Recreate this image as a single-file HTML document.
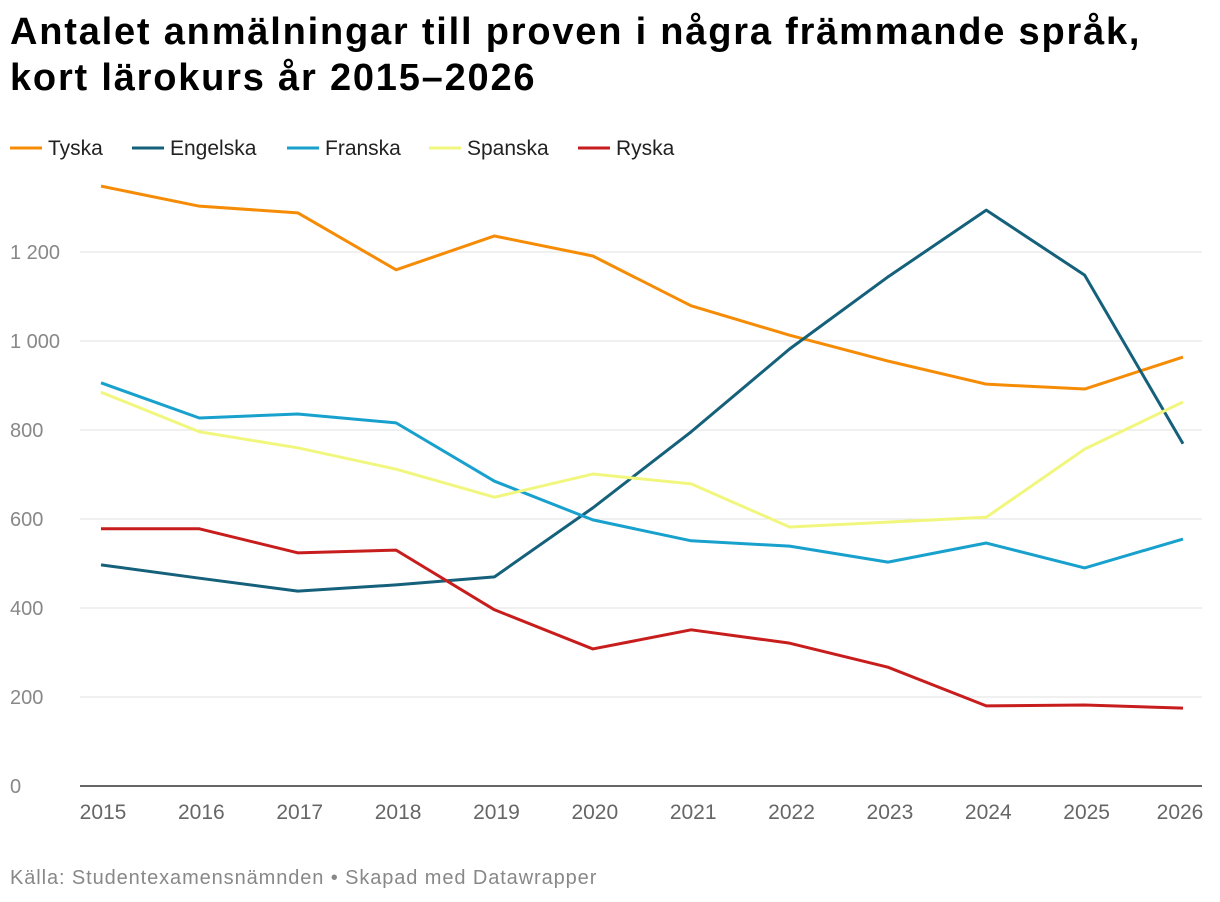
<!DOCTYPE html>
<html><head><meta charset="utf-8">
<style>
body{margin:0;background:#fff;width:1220px;height:902px;overflow:hidden;font-family:"Liberation Sans",sans-serif;}
h1{position:absolute;left:10px;top:9px;margin:0;font-size:38px;line-height:46px;font-weight:bold;color:#000;letter-spacing:1.8px;white-space:nowrap}
.foot{position:absolute;left:10px;top:867px;font-size:20px;letter-spacing:0.9px;color:#888}
svg{position:absolute;left:0;top:0}
</style></head><body>
<h1>Antalet anmälningar till proven i några främmande språk,<br>kort lärokurs år 2015–2026</h1>
<svg id="c" width="1220" height="902"></svg>
<div class="foot">Källa: Studentexamensnämnden • Skapad med Datawrapper</div>
<script>
const years=[2015,2016,2017,2018,2019,2020,2021,2022,2023,2024,2025,2026];
const yTicks=[0,200,400,600,800,1000,1200];
const yTickLabels=["0","200","400","600","800","1 000","1 200"];
const seriesNames=["Tyska","Engelska","Franska","Spanska","Ryska"];
const tyska=[1348,1303,1288,1160,1236,1191,1079,1013,955,903,892,964];
const engelska=[497,467,438,452,470,625,796,982,1144,1294,1148,769];
const franska=[906,827,836,816,685,598,551,539,503,546,490,555];
const spanska=[885,796,760,712,649,701,679,582,593,604,757,863];
const ryska=[578,578,524,530,396,308,351,321,267,180,182,175];
const colors=["#f68c06","#15607a","#18a1cd","#f1f77e","#c71e1d"];
const svg=document.getElementById('c');const NS="http://www.w3.org/2000/svg";
const x=i=>101+i*(1082/11);const y=v=>786-v*0.445;
function mk(t,a,p){const e=document.createElementNS(NS,t);for(const k in a)e.setAttribute(k,a[k]);(p||svg).appendChild(e);return e;}
yTicks.forEach((v,i)=>{
 if(v>0){const g=mk('line',{x1:80,x2:1202,y1:y(v),y2:y(v),stroke:'#e2e2e2','stroke-width':1});
 
 }
 const t=mk('text',{x:10,y:y(v)+7,'font-size':20,fill:'#888'});t.textContent=yTickLabels[i];
 
 
});
const base=mk('line',{x1:80,x2:1202,y1:786,y2:786,stroke:'#333','stroke-width':1.5});


years.forEach((yr,i)=>{const t=mk('text',{x:Math.min(x(i)+2,1180),y:819,'font-size':21,fill:'#666','text-anchor':'middle'});t.textContent=yr;
 
 });
const data=[tyska,engelska,franska,spanska,ryska];
const lx=[10,132,287,429,578];
data.forEach((d,s)=>{
 const p=mk('polyline',{points:d.map((v,i)=>x(i)+','+y(v)).join(' '),fill:'none',stroke:colors[s],'stroke-width':3,'stroke-linejoin':'round'});
 
 
 const l=mk('line',{x1:lx[s],x2:lx[s]+32,y1:148,y2:148,stroke:colors[s],'stroke-width':3});
 
 
 const t=mk('text',{x:lx[s]+38,y:155,'font-size':21,fill:'#222'});t.textContent=seriesNames[s];
 
 
});
</script>
</body></html>
